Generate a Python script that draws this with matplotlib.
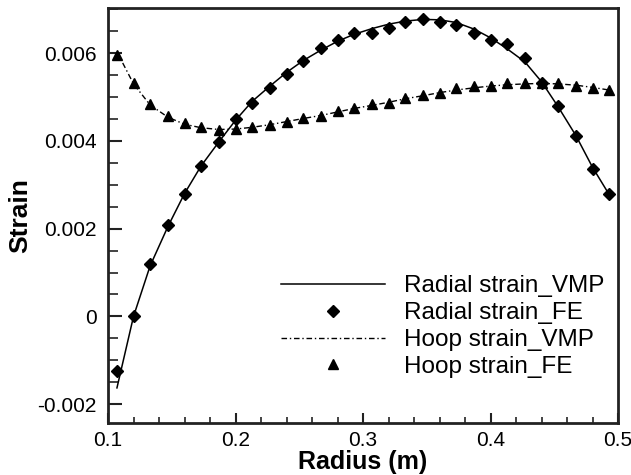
import matplotlib
matplotlib.use('Agg')
import matplotlib.pyplot as plt
import matplotlib.ticker as ticker

plt.rcParams['font.family'] = ['Liberation Sans', 'DejaVu Sans']
plt.rcParams['axes.unicode_minus'] = False

# 반경 위치 (m)
radius = [0.107, 0.120, 0.133, 0.147, 0.160, 0.173, 0.187, 0.200, 0.213, 0.227,
          0.240, 0.253, 0.267, 0.280, 0.293, 0.307, 0.320, 0.333, 0.347, 0.360,
          0.373, 0.387, 0.400, 0.413, 0.427, 0.440, 0.453, 0.467, 0.480, 0.493]

# 반경방향 변형률
radial_vmp = [-0.00163, 0.00000, 0.00115, 0.00205, 0.00280, 0.00343, 0.00398, 0.00447, 0.00490, 0.00525,
              0.00556, 0.00583, 0.00607, 0.00627, 0.00643, 0.00656, 0.00666, 0.00673, 0.00677, 0.00676,
              0.00670, 0.00655, 0.00635, 0.00610, 0.00580, 0.00535, 0.00478, 0.00412, 0.00340, 0.00278]
radial_fe = [-0.00124, 0.00000, 0.00119, 0.00208, 0.00280, 0.00343, 0.00398, 0.00449, 0.00487, 0.00521,
             0.00552, 0.00582, 0.00612, 0.00631, 0.00646, 0.00646, 0.00657, 0.00672, 0.00679, 0.00672,
             0.00665, 0.00646, 0.00631, 0.00620, 0.00589, 0.00533, 0.00480, 0.00412, 0.00337, 0.00280]

# 원주방향 변형률
hoop_vmp = [0.00603, 0.00530, 0.00482, 0.00454, 0.00438, 0.00430, 0.00426, 0.00427, 0.00431, 0.00437,
            0.00444, 0.00451, 0.00458, 0.00466, 0.00474, 0.00481, 0.00488, 0.00496, 0.00503, 0.00510,
            0.00516, 0.00521, 0.00525, 0.00528, 0.00530, 0.00531, 0.00530, 0.00527, 0.00522, 0.00516]
hoop_fe = [0.00595, 0.00531, 0.00484, 0.00457, 0.00440, 0.00431, 0.00425, 0.00426, 0.00431, 0.00436,
           0.00444, 0.00452, 0.00457, 0.00469, 0.00475, 0.00484, 0.00487, 0.00497, 0.00505, 0.00509,
           0.00520, 0.00525, 0.00525, 0.00533, 0.00533, 0.00533, 0.00531, 0.00525, 0.00520, 0.00516]

fig = plt.figure(figsize=(6.31, 4.75), dpi=100)
ax = fig.add_axes([0.1712, 0.1095, 0.8082, 0.8737])

ax.plot(radius, radial_vmp, '-', color='black', lw=1.1, label='Radial strain_VMP')
ax.plot(radius, radial_fe, 'D', color='black', ms=6, ls='none', label='Radial strain_FE')
ax.plot(radius, hoop_vmp, color='black', lw=1.0, ls=(0, (4, 2, 1, 2)), label='Hoop strain_VMP')
ax.plot(radius, hoop_fe, '^', color='black', ms=7, ls='none', label='Hoop strain_FE')

# 축 범위와 눈금
ax.set_xlim(0.1, 0.5)
ax.set_ylim(-0.00243, 0.00703)
ax.xaxis.set_major_locator(ticker.MultipleLocator(0.1))
ax.xaxis.set_minor_locator(ticker.MultipleLocator(0.02))
ax.yaxis.set_major_locator(ticker.FixedLocator([-0.002, 0, 0.002, 0.004, 0.006]))
ax.yaxis.set_minor_locator(ticker.MultipleLocator(0.0005))
ax.xaxis.set_major_formatter(ticker.FuncFormatter(lambda v, p: '{:.1f}'.format(v)))
ax.yaxis.set_major_formatter(ticker.FuncFormatter(lambda v, p: '0' if abs(v) < 1e-9 else '{:.3f}'.format(v)))

ax.tick_params(axis='both', which='both', direction='in', top=False, right=False,
               labelsize=15, color='#222222')
ax.tick_params(axis='y', which='major', length=10, width=1.5, pad=8)
ax.tick_params(axis='y', which='minor', length=7, width=1.2)
ax.tick_params(axis='x', which='major', length=7, width=1.5, pad=6)
ax.tick_params(axis='x', which='minor', length=4, width=1.2)

for sp in ax.spines.values():
    sp.set_linewidth(2.0)
    sp.set_color('#222222')

ax.set_xlabel('Radius (m)', fontsize=18, fontweight='bold', labelpad=0)
ax.set_ylabel('Strain', fontsize=19, fontweight='bold', labelpad=4)

ax.legend(loc='upper left', bbox_to_anchor=(0.315, 0.385), frameon=False,
          fontsize=17.5, handlelength=4.3, handletextpad=0.78, labelspacing=0.2,
          numpoints=1, borderpad=0)

plt.savefig('out.png', dpi=100)
